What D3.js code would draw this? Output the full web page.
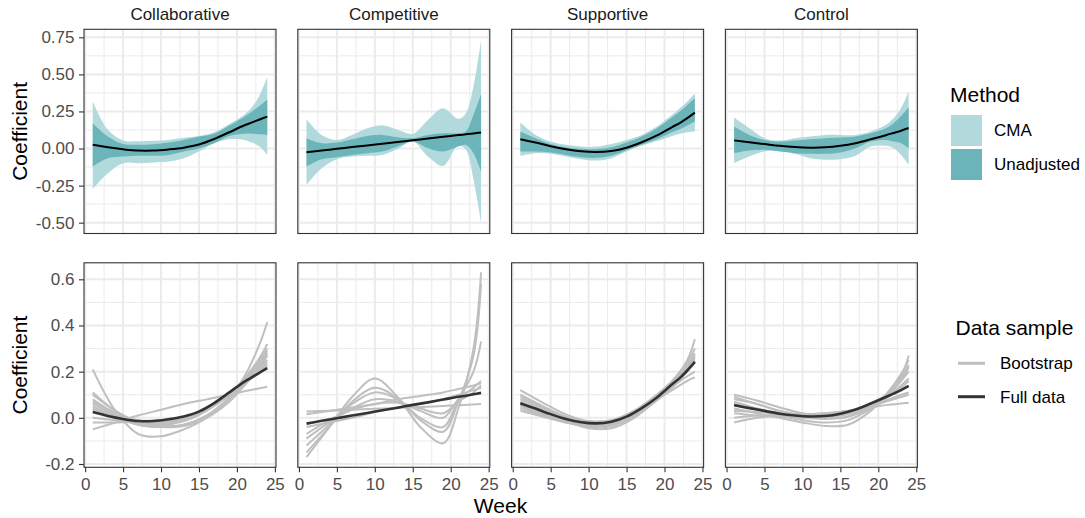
<!DOCTYPE html>
<html>
<head>
<meta charset="utf-8">
<script src="https://cdn.jsdelivr.net/npm/d3@7"></script>
<style>
  body { margin: 0; background: #fff; }
  svg { display: block; }
  text { font-family: "Liberation Sans", Arial, Helvetica, sans-serif; }
</style>
</head>
<body>
<svg id="chart" width="1085" height="518"></svg>
<script>
// ---------------- DATA ----------------
const facets = ["Collaborative", "Competitive", "Supportive", "Control"];
const weeks = [1, 3, 5, 7, 9, 11, 13, 15, 17, 19, 21, 22, 23, 24];
const bootWeeks = [1, 4, 7, 10, 13, 16, 19, 21, 23, 24];

const xTicks = [0, 5, 10, 15, 20, 25];
const topYTicks = [-0.5, -0.25, 0, 0.25, 0.5, 0.75];
const topYLabels = ["-0.50", "-0.25", "0.00", "0.25", "0.50", "0.75"];
const bottomYTicks = [-0.2, 0, 0.2, 0.4, 0.6];
const bottomYLabels = ["-0.2", "0.0", "0.2", "0.4", "0.6"];

const methodLabels = ["CMA", "Unadjusted"];
const sampleLabels = ["Bootstrap", "Full data"];

// Full-data estimates (per facet, at `weeks`)
const fullCollaborative = [0.025, 0.008, -0.005, -0.014, -0.014, -0.006, 0.006, 0.027, 0.064, 0.11, 0.157, 0.176, 0.196, 0.215];
const fullCompetitive  = [-0.025, -0.013, -0.002, 0.010, 0.021, 0.033, 0.044, 0.056, 0.067, 0.079, 0.091, 0.096, 0.102, 0.108];
const fullSupportive   = [0.063, 0.04, 0.016, -0.005, -0.019, -0.024, -0.017, 0.005, 0.042, 0.088, 0.145, 0.172, 0.205, 0.242];
const fullControl      = [0.055, 0.042, 0.03, 0.018, 0.01, 0.006, 0.008, 0.018, 0.036, 0.062, 0.09, 0.105, 0.12, 0.138];

// CMA interval
const cmaLowCollaborative  = [-0.272, -0.166, -0.099, -0.099, -0.094, -0.088, -0.065, -0.02, 0.036, 0.063, 0.058, 0.04, 0.013, -0.043];
const cmaHighCollaborative = [0.317, 0.126, 0.054, 0.049, 0.052, 0.058, 0.072, 0.085, 0.11, 0.165, 0.23, 0.28, 0.36, 0.48];
const cmaLowCompetitive    = [-0.245, -0.133, -0.072, -0.054, -0.049, -0.043, -0.004, 0.047, -0.054, -0.117, 0.02, -0.009, -0.21, -0.499];
const cmaHighCompetitive   = [0.198, 0.092, 0.058, 0.092, 0.137, 0.157, 0.126, 0.099, 0.193, 0.272, 0.2, 0.238, 0.42, 0.728];
const cmaLowSupportive     = [-0.049, -0.031, -0.036, -0.054, -0.072, -0.081, -0.065, -0.02, 0.02, 0.05, 0.085, 0.1, 0.11, 0.115];
const cmaHighSupportive    = [0.175, 0.092, 0.047, 0.025, 0.013, 0.013, 0.031, 0.058, 0.092, 0.148, 0.227, 0.272, 0.317, 0.373];
const cmaLowControl        = [-0.099, -0.054, -0.02, -0.013, -0.036, -0.065, -0.076, -0.072, -0.049, 0.013, 0.018, 0.002, -0.043, -0.11];
const cmaHighControl       = [0.209, 0.137, 0.07, 0.054, 0.07, 0.081, 0.092, 0.092, 0.092, 0.115, 0.16, 0.205, 0.272, 0.384];

// Unadjusted interval
const unadjLowCollaborative  = [-0.121, -0.065, -0.054, -0.049, -0.049, -0.043, -0.02, 0.0, 0.035, 0.085, 0.1, 0.1, 0.097, 0.092];
const unadjHighCollaborative = [0.171, 0.081, 0.031, 0.025, 0.029, 0.04, 0.058, 0.081, 0.10, 0.155, 0.215, 0.25, 0.288, 0.33];
const unadjLowCompetitive    = [-0.121, -0.072, -0.058, -0.043, -0.031, -0.02, 0.013, 0.047, 0.002, -0.02, 0.013, 0.025, -0.031, -0.155];
const unadjHighCompetitive   = [0.07, 0.036, 0.04, 0.063, 0.085, 0.092, 0.076, 0.07, 0.092, 0.103, 0.103, 0.115, 0.227, 0.366];
const unadjLowSupportive     = [-0.02, -0.02, -0.027, -0.043, -0.058, -0.063, -0.049, -0.012, 0.025, 0.062, 0.11, 0.13, 0.155, 0.182];
const unadjHighSupportive    = [0.115, 0.07, 0.031, 0.009, -0.002, -0.004, 0.009, 0.04, 0.081, 0.137, 0.211, 0.249, 0.294, 0.339];
const unadjLowControl        = [-0.031, -0.013, -0.009, -0.02, -0.031, -0.036, -0.036, -0.027, 0.002, 0.047, 0.058, 0.047, 0.036, 0.002];
const unadjHighControl       = [0.148, 0.092, 0.058, 0.047, 0.054, 0.063, 0.07, 0.074, 0.081, 0.103, 0.137, 0.171, 0.22, 0.279];

// Bootstrap replicates (at `bootWeeks`)
const bootCollaborative = [
  [0.21, 0.03, -0.07, -0.08, -0.05, 0.0, 0.08, 0.15, 0.23, 0.27],
  [-0.05, -0.02, 0.01, 0.035, 0.06, 0.08, 0.1, 0.115, 0.128, 0.135],
  [0.11, 0.03, -0.02, -0.03, -0.015, 0.03, 0.1, 0.17, 0.26, 0.32],
  [0.08, 0.02, -0.015, -0.02, -0.005, 0.035, 0.105, 0.165, 0.24, 0.29],
  [0.05, 0.005, -0.02, -0.025, -0.01, 0.035, 0.1, 0.155, 0.22, 0.25],
  [-0.02, -0.02, -0.015, -0.01, 0.005, 0.04, 0.105, 0.15, 0.195, 0.22],
  [0.0, -0.01, -0.02, -0.02, -0.005, 0.035, 0.1, 0.15, 0.21, 0.24],
  [0.06, 0.01, -0.03, -0.04, -0.03, 0.01, 0.085, 0.16, 0.25, 0.30],
  [0.1, 0.03, -0.02, -0.035, -0.03, 0.01, 0.09, 0.18, 0.32, 0.415],
  [0.03, 0.0, -0.02, -0.02, -0.005, 0.04, 0.1, 0.15, 0.2, 0.23],
  [0.04, 0.0, -0.03, -0.04, -0.035, 0.0, 0.07, 0.14, 0.22, 0.27],
  [0.07, 0.02, -0.01, -0.01, 0.005, 0.045, 0.11, 0.165, 0.24, 0.28]
];
const bootCompetitive = [
  [-0.17, -0.04, 0.09, 0.17, 0.09, -0.04, -0.11, 0.04, 0.3, 0.63],
  [-0.15, -0.04, 0.07, 0.13, 0.085, -0.01, -0.06, 0.07, 0.27, 0.58],
  [-0.12, -0.03, 0.06, 0.11, 0.08, 0.0, -0.04, 0.08, 0.2, 0.33],
  [-0.09, -0.02, 0.04, 0.08, 0.07, 0.03, 0.0, 0.08, 0.13, 0.16],
  [-0.07, -0.01, 0.035, 0.06, 0.065, 0.04, 0.02, 0.07, 0.11, 0.14],
  [0.027, 0.031, 0.035, 0.039, 0.043, 0.047, 0.051, 0.055, 0.058, 0.06],
  [0.015, 0.03, 0.045, 0.06, 0.08, 0.095, 0.11, 0.125, 0.14, 0.15],
  [-0.04, -0.02, 0.0, 0.025, 0.045, 0.06, 0.08, 0.1, 0.12, 0.13]
];
const bootSupportive = [
  [0.12, 0.065, 0.015, -0.015, -0.012, 0.025, 0.09, 0.15, 0.23, 0.28],
  [0.1, 0.05, 0.005, -0.02, -0.02, 0.02, 0.09, 0.15, 0.24, 0.3],
  [0.08, 0.04, 0.0, -0.025, -0.025, 0.015, 0.085, 0.14, 0.21, 0.25],
  [0.05, 0.015, -0.015, -0.035, -0.03, 0.02, 0.1, 0.16, 0.25, 0.34],
  [0.04, 0.01, -0.02, -0.04, -0.035, 0.005, 0.075, 0.13, 0.2, 0.24],
  [0.03, 0.005, -0.02, -0.03, -0.02, 0.02, 0.08, 0.12, 0.16, 0.175],
  [0.06, 0.02, -0.015, -0.035, -0.035, 0.01, 0.085, 0.145, 0.22, 0.27],
  [0.09, 0.045, 0.005, -0.015, -0.01, 0.03, 0.09, 0.135, 0.18, 0.2],
  [0.07, 0.03, -0.01, -0.045, -0.045, 0.0, 0.08, 0.14, 0.22, 0.26],
  [0.055, 0.025, -0.005, -0.02, -0.015, 0.03, 0.1, 0.155, 0.225, 0.26]
];
const bootControl = [
  [0.1, 0.075, 0.045, 0.02, 0.01, 0.02, 0.06, 0.1, 0.18, 0.27],
  [0.08, 0.06, 0.03, 0.015, 0.01, 0.02, 0.055, 0.095, 0.16, 0.22],
  [0.06, 0.04, 0.02, 0.01, 0.005, 0.015, 0.05, 0.085, 0.14, 0.17],
  [-0.02, 0.0, 0.01, 0.015, 0.02, 0.03, 0.045, 0.055, 0.062, 0.065],
  [0.0, 0.01, 0.015, 0.015, 0.02, 0.03, 0.05, 0.07, 0.09, 0.1],
  [0.04, 0.02, 0.0, -0.02, -0.035, -0.03, 0.03, 0.1, 0.19, 0.25],
  [0.07, 0.04, 0.01, -0.01, -0.02, -0.01, 0.04, 0.09, 0.16, 0.2],
  [0.03, 0.025, 0.02, 0.015, 0.015, 0.025, 0.05, 0.075, 0.1, 0.11],
  [0.09, 0.06, 0.03, 0.01, 0.0, 0.005, 0.045, 0.09, 0.17, 0.23],
  [0.02, 0.01, 0.005, 0.0, -0.005, 0.005, 0.045, 0.085, 0.13, 0.16]
];

// ---------------- TABLE ----------------
const fullArr = [fullCollaborative, fullCompetitive, fullSupportive, fullControl];
const cmaLowArr = [cmaLowCollaborative, cmaLowCompetitive, cmaLowSupportive, cmaLowControl];
const cmaHighArr = [cmaHighCollaborative, cmaHighCompetitive, cmaHighSupportive, cmaHighControl];
const unLowArr = [unadjLowCollaborative, unadjLowCompetitive, unadjLowSupportive, unadjLowControl];
const unHighArr = [unadjHighCollaborative, unadjHighCompetitive, unadjHighSupportive, unadjHighControl];
const bootArr = [bootCollaborative, bootCompetitive, bootSupportive, bootControl];

const table = facets.map((f, i) => ({
  facet: f,
  full: weeks.map((w, j) => ({ w, v: fullArr[i][j] })),
  cma: weeks.map((w, j) => ({ w, lo: cmaLowArr[i][j], hi: cmaHighArr[i][j] })),
  unadj: weeks.map((w, j) => ({ w, lo: unLowArr[i][j], hi: unHighArr[i][j] })),
  boot: bootArr[i].map(rep => bootWeeks.map((w, j) => ({ w, v: rep[j] })))
}));

// ---------------- STYLE / LAYOUT ----------------
const colCMA = "#b2dadd", colUnadj = "#6bb5ba";
const colBoot = "#bfbfbf", colFull = "#333333";
const gridCol = "#ebebeb";
const tickTextCol = "#4d4d4d";
const fs = 17, fsTitle = 21;

const panelLeft0 = 84, panelStep = 213.8, panelW = 192;
const rows = [
  { y0: 29.3, y1: 233.5, domain: [-0.573, 0.804], ticks: topYTicks, labels: topYLabels },
  { y0: 262.8, y1: 467.3, domain: [-0.2143, 0.6715], ticks: bottomYTicks, labels: bottomYLabels }
];
const xDomain = [-0.15, 25.15];

const svg = d3.select("#chart");
const defs = svg.append("defs");

function mids(arr) { return d3.pairs(arr).map(([a, b]) => (a + b) / 2); }

rows.forEach((row, r) => {
  const y = d3.scaleLinear().domain(row.domain).range([row.y1, row.y0]);
  table.forEach((d, i) => {
    const left = panelLeft0 + i * panelStep;
    const x = d3.scaleLinear().domain(xDomain).range([left, left + panelW]);
    const g = svg.append("g");
    const clipId = `clip-${r}-${i}`;
    defs.append("clipPath").attr("id", clipId).append("rect")
      .attr("x", left).attr("y", row.y0).attr("width", panelW).attr("height", row.y1 - row.y0);

    // grid
    const grid = g.append("g");
    grid.selectAll(".mx").data(mids(xTicks)).enter().append("line")
      .attr("x1", v => x(v)).attr("x2", v => x(v)).attr("y1", row.y0).attr("y2", row.y1)
      .attr("stroke", gridCol).attr("stroke-width", 1);
    grid.selectAll(".my").data(mids(row.ticks)).enter().append("line")
      .attr("y1", v => y(v)).attr("y2", v => y(v)).attr("x1", left).attr("x2", left + panelW)
      .attr("stroke", gridCol).attr("stroke-width", 1);
    grid.selectAll(".Mx").data(xTicks).enter().append("line")
      .attr("x1", v => x(v)).attr("x2", v => x(v)).attr("y1", row.y0).attr("y2", row.y1)
      .attr("stroke", gridCol).attr("stroke-width", 2);
    grid.selectAll(".My").data(row.ticks).enter().append("line")
      .attr("y1", v => y(v)).attr("y2", v => y(v)).attr("x1", left).attr("x2", left + panelW)
      .attr("stroke", gridCol).attr("stroke-width", 2);

    const plot = g.append("g").attr("clip-path", `url(#${clipId})`);
    const curve = d3.curveCatmullRom.alpha(0.5);
    if (r === 0) {
      const area = d3.area().x(p => x(p.w)).y0(p => y(p.lo)).y1(p => y(p.hi)).curve(curve);
      plot.append("path").datum(d.cma).attr("d", area).attr("fill", colCMA);
      plot.append("path").datum(d.unadj).attr("d", area).attr("fill", colUnadj);
      const line = d3.line().x(p => x(p.w)).y(p => y(p.v)).curve(curve);
      plot.append("path").datum(d.full).attr("d", line)
        .attr("fill", "none").attr("stroke", "#000").attr("stroke-width", 2);
    } else {
      const line = d3.line().x(p => x(p.w)).y(p => y(p.v)).curve(curve);
      plot.selectAll(".boot").data(d.boot).enter().append("path")
        .attr("d", line).attr("fill", "none").attr("stroke", colBoot)
        .attr("stroke-width", 2).attr("stroke-linecap", "butt");
      plot.append("path").datum(d.full).attr("d", line)
        .attr("fill", "none").attr("stroke", colFull).attr("stroke-width", 2.6);
    }

    // panel border
    g.append("rect").attr("x", left).attr("y", row.y0).attr("width", panelW)
      .attr("height", row.y1 - row.y0).attr("fill", "none")
      .attr("stroke", "#333").attr("stroke-width", 1.1);

    // strip
    if (r === 0) {
      g.append("text").attr("x", left + panelW / 2).attr("y", 20)
        .attr("text-anchor", "middle").attr("font-size", fs).attr("fill", "#1a1a1a")
        .text(d.facet);
    }

    // y axis
    if (i === 0) {
      const ax = g.append("g").attr("transform", `translate(${left},0)`)
        .call(d3.axisLeft(y).tickValues(row.ticks).tickFormat((v, k) => row.labels[k])
          .tickSize(5).tickPadding(4.5));
      ax.select(".domain").remove();
      ax.selectAll(".tick line").attr("stroke", "#333").attr("stroke-width", 1.1);
      ax.selectAll(".tick text").attr("font-size", fs).attr("fill", tickTextCol)
        .attr("font-family", "Liberation Sans, Arial, sans-serif");
      svg.append("text")
        .attr("transform", `translate(26.5,${(row.y0 + row.y1) / 2}) rotate(-90)`)
        .attr("text-anchor", "middle").attr("font-size", fsTitle).attr("fill", "#000")
        .text("Coefficient");
    }
    // x axis
    if (r === 1) {
      const ax = g.append("g").attr("transform", `translate(0,${row.y1})`)
        .call(d3.axisBottom(x).tickValues(xTicks).tickFormat(d3.format("d"))
          .tickSize(5).tickPadding(5.6));
      ax.select(".domain").remove();
      ax.selectAll(".tick line").attr("stroke", "#333").attr("stroke-width", 1.1);
      ax.selectAll(".tick text").attr("font-size", fs).attr("fill", tickTextCol)
        .attr("font-family", "Liberation Sans, Arial, sans-serif");
    }
  });
});

// x title
svg.append("text").attr("x", 500.5).attr("y", 513).attr("text-anchor", "middle")
  .attr("font-size", fsTitle).attr("fill", "#000").text("Week");

// ---------------- LEGENDS ----------------
const lg1 = svg.append("g");
lg1.append("text").attr("x", 950).attr("y", 101.5).attr("font-size", fsTitle).text("Method");
const methodColors = d3.scaleOrdinal().domain(methodLabels).range([colCMA, colUnadj]);
methodLabels.forEach((m, k) => {
  const yy = 115 + k * 34;
  lg1.append("rect").attr("x", 951).attr("y", yy).attr("width", 31).attr("height", 31)
    .attr("fill", methodColors(m));
  lg1.append("text").attr("x", 994).attr("y", yy + 15.5).attr("dy", "0.35em")
    .attr("font-size", fs).attr("fill", "#000").text(m);
});

const lg2 = svg.append("g");
lg2.append("text").attr("x", 955.5).attr("y", 335).attr("font-size", fsTitle).text("Data sample");
const sampleColors = d3.scaleOrdinal().domain(sampleLabels).range([colBoot, colFull]);
sampleLabels.forEach((s, k) => {
  const yy = 363.3 + k * 33.4;
  lg2.append("line").attr("x1", 958).attr("x2", 985).attr("y1", yy).attr("y2", yy)
    .attr("stroke", sampleColors(s)).attr("stroke-width", 3);
  lg2.append("text").attr("x", 1000).attr("y", yy).attr("dy", "0.35em")
    .attr("font-size", fs).attr("fill", "#000").text(s);
});
</script>
</body>
</html>
